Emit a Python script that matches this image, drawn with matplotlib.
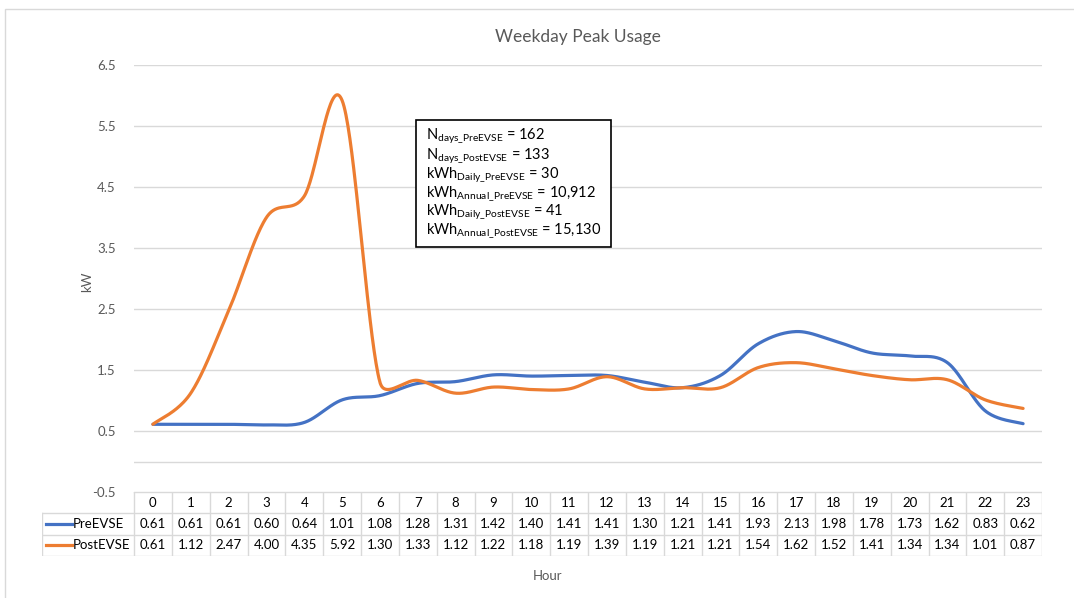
import numpy as np
import matplotlib
matplotlib.use("Agg")
import matplotlib.pyplot as plt
from matplotlib.patches import Rectangle

plt.rcParams['font.family'] = ['Lato', 'DejaVu Sans']
plt.rcParams['mathtext.default'] = 'regular'

# data
hours = list(range(24))
pre_evse = [0.61, 0.61, 0.61, 0.60, 0.64, 1.01, 1.08, 1.28, 1.31, 1.42, 1.40, 1.41,
            1.41, 1.30, 1.21, 1.41, 1.93, 2.13, 1.98, 1.78, 1.73, 1.62, 0.83, 0.62]
post_evse = [0.61, 1.12, 2.47, 4.00, 4.35, 5.92, 1.30, 1.33, 1.12, 1.22, 1.18, 1.19,
             1.39, 1.19, 1.21, 1.21, 1.54, 1.62, 1.52, 1.41, 1.34, 1.34, 1.01, 0.87]
series_names = ['PreEVSE', 'PostEVSE']
series_colors = ['#4472C4', '#ED7D31']
yticks = [-0.5, 0.5, 1.5, 2.5, 3.5, 4.5, 5.5, 6.5]
stats_lines = [
    r'N$_{days\_PreEVSE}$ = 162',
    r'N$_{days\_PostEVSE}$ = 133',
    r'kWh$_{Daily\_PreEVSE}$ = 30',
    r'kWh$_{Annual\_PreEVSE}$ = 10,912',
    r'kWh$_{Daily\_PostEVSE}$ = 41',
    r'kWh$_{Annual\_PostEVSE}$ = 15,130',
]

GRAY = '#595959'
GRID = '#D9D9D9'
W, H = 1074, 598
XPX = (1042 - 134) / 24   # pixels per hour
YPX = (492 - 65) / 7      # pixels per kW


def smooth(x, y, n=40, clamp=0.5):
    # excel-like smoothed line: catmull-rom bezier, handles capped vs. chord length
    x = np.asarray(x, float)
    y = np.asarray(y, float)
    px = np.concatenate([[x[0]], x, [x[-1]]])
    py = np.concatenate([[y[0]], y, [y[-1]]])
    pts = np.column_stack([px, py])
    scale = np.array([XPX, YPX])
    xs, ys = [], []
    t = np.linspace(0, 1, n)
    for i in range(len(x) - 1):
        p0, p1, p2, p3 = pts[i], pts[i + 1], pts[i + 2], pts[i + 3]
        d12 = np.linalg.norm((p2 - p1) * scale)
        h1 = (p2 - p0) / 6
        h2 = (p3 - p1) / 6
        for h in (h1, h2):
            ln = np.linalg.norm(h * scale)
            if ln > clamp * d12 and ln > 0:
                h *= clamp * d12 / ln
        c1 = p1 + h1
        c2 = p2 - h2
        b = ((1 - t) ** 3)[:, None] * p1 + (3 * (1 - t) ** 2 * t)[:, None] * c1 \
            + (3 * (1 - t) * t ** 2)[:, None] * c2 + (t ** 3)[:, None] * p2
        xs.extend(b[:, 0])
        ys.extend(b[:, 1])
    return xs, ys


fig = plt.figure(figsize=(W / 100, H / 100), dpi=100)

# chart border
fig.patches.append(Rectangle((5 / W, -0.02), 1.05, 1 - 9 / H + 0.02, transform=fig.transFigure,
                             fill=False, edgecolor=GRID, lw=1))

ax = fig.add_axes([134 / W, 1 - 492 / H, (1042 - 134) / W, (492 - 65) / H])
for name, vals, col in zip(series_names, [pre_evse, post_evse], series_colors):
    sx, sy = smooth(hours, vals)
    ax.plot(sx, sy, color=col, lw=2.3, solid_capstyle='round', zorder=3)

ax.set_xlim(-0.5, 23.5)
ax.set_ylim(-0.5, 6.5)
ax.set_yticks(yticks)
ax.set_yticklabels([f'{v:.1f}' for v in yticks])
ax.tick_params(axis='y', length=0, pad=13, labelsize=9.5, labelcolor=GRAY)
ax.set_xticks([])
ax.grid(axis='y', color=GRID, lw=1)
ax.axhline(0, color=GRID, lw=1)
for s in ax.spines.values():
    s.set_visible(False)
ax.set_axisbelow(True)

fig.text(578 / W, 1 - 37 / H, 'Weekday Peak Usage', ha='center', va='center', fontsize=12.5, color=GRAY)
fig.text(87 / W, 1 - 282 / H, 'kW', ha='center', va='center', rotation=90, fontsize=9.5, color=GRAY)
fig.text(548 / W, 1 - 576 / H, 'Hour', ha='center', va='center', fontsize=9.5, color=GRAY)

# stats box
fig.patches.append(Rectangle((416 / W, 1 - 247 / H), (611 - 416) / W, (247 - 120) / H,
                             transform=fig.transFigure, facecolor='white', edgecolor='black', lw=1.2, zorder=5))
base_y = [140, 160, 179, 198, 216, 235]
for line, yy in zip(stats_lines, base_y):
    fig.text(426 / W, 1 - yy / H, line, ha='left', va='baseline', fontsize=10.5, color='black', zorder=6)

# data table under the axis
tax = fig.add_axes([42 / W, 1 - 556 / H, 1000 / W, 64 / H])
xl = -0.5 - 92 / XPX
tax.set_xlim(xl, 23.5)
tax.set_ylim(3, 0)
tax.axis('off')


def px2x(p):
    return -0.5 + (p - 134) / XPX


tax.plot([-0.5, 23.5], [0, 0], color=GRID, lw=1)
for r in [1, 2, 3]:
    tax.plot([xl, 23.5], [r, r], color=GRID, lw=1)
tax.plot([xl, xl], [1, 3], color=GRID, lw=1)
for k in range(25):
    tax.plot([k - 0.5, k - 0.5], [0, 3], color=GRID, lw=1)

for h in hours:
    tax.text(h, 0.5, str(h), ha='center', va='center', fontsize=9.5, color='black')
for r, (name, vals, col) in enumerate(zip(series_names, [pre_evse, post_evse], series_colors)):
    yy = r + 1.5
    tax.plot([px2x(46), px2x(72)], [yy, yy], color=col, lw=2.3)
    tax.text(px2x(73), yy, name, ha='left', va='center', fontsize=9.5, color='black')
    for h, v in zip(hours, vals):
        tax.text(h, yy, f'{v:.2f}', ha='center', va='center', fontsize=9.5, color='black')

fig.savefig('out.png', dpi=100)
